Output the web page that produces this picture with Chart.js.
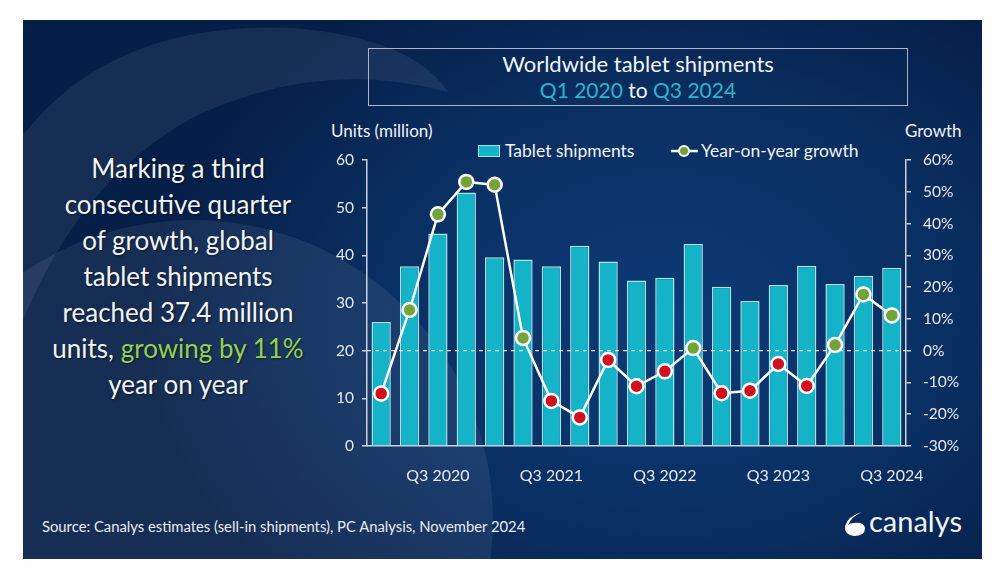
<!DOCTYPE html>
<html>
<head>
<meta charset="utf-8">
<script src="https://cdn.jsdelivr.net/npm/chart.js@4.4.1/dist/chart.umd.min.js"></script>
<style>
  html,body{margin:0;padding:0;background:#fff;width:1004px;height:587px;overflow:hidden;font-family:Lato,"Open Sans",sans-serif;}
  #panel{position:absolute;left:23px;top:20px;width:959px;height:539px;overflow:hidden;
    background: radial-gradient(ellipse 520px 380px at 640px 300px, #0d3b76 0%, #0a2f62 55%, #061f48 100%);}
  #bg{position:absolute;left:0;top:0;}
  #c{position:absolute;left:0;top:0;}
  .t{position:absolute;color:#f2f4f7;white-space:nowrap;}
  #titlebox{position:absolute;left:368px;top:48px;width:540px;height:58px;border:1.5px solid #aab6c6;box-sizing:border-box;}
  .teal{color:#2cb3cb;}
  #lefttext{position:absolute;left:25px;top:150px;width:306px;text-align:center;font-size:26px;line-height:36px;color:#f2f4f7;text-shadow:1px 1px 2px rgba(0,0,0,0.5);}
  .green{color:#94d051;}
</style>
</head>
<body>
<div id="panel">
  <svg id="bg" width="959" height="539">
    <path d="M 0 115 Q 90 0 270 8 Q 390 18 425 72 Q 300 38 175 95 Q 60 155 0 300 Z" fill="rgba(255,255,255,0.07)"/>
    <circle cx="170" cy="500" r="300" fill="rgba(255,255,255,0.07)"/>
  </svg>
</div>
<div id="titlebox"></div>
<div class="t" style="left:368px;width:540px;text-align:center;top:50px;font-size:22px;">Worldwide tablet shipments</div>
<div class="t" style="left:368px;width:540px;text-align:center;top:77px;font-size:21px;"><span class="teal">Q1 2020</span> to <span class="teal">Q3 2024</span></div>
<div class="t" style="left:331px;top:120px;font-size:17px;">Units (million)</div>
<div class="t" style="left:905px;top:120px;font-size:17px;">Growth</div>
<div id="lefttext">Marking a third<br>consecutive quarter<br>of growth, global<br>tablet shipments<br>reached 37.4 million<br>units, <span class="green">growing by 11%</span><br>year on year</div>
<div style="position:absolute;left:478px;top:145px;width:22px;height:12px;background:#14b3c7;border:1px solid #a8e4ec;box-sizing:border-box;"></div>
<div class="t" style="left:505px;top:140px;font-size:17.5px;">Tablet shipments</div>
<svg style="position:absolute;left:668px;top:141px;" width="34" height="20">
  <line x1="3" y1="10" x2="30" y2="10" stroke="#fff" stroke-width="2.5"/>
  <circle cx="16" cy="10" r="5" fill="#76a23a" stroke="#fff" stroke-width="2"/>
</svg>
<div class="t" style="left:701px;top:140px;font-size:17.5px;">Year-on-year growth</div>
<div class="t" style="left:42px;top:517px;font-size:14.8px;color:#e8ecf2;">Source: Canalys estimates (sell-in shipments), PC Analysis, November 2024</div>
<svg style="position:absolute;left:842px;top:510px;" width="26" height="28">
  <path d="M 20 2 Q 6 6 3 16 Q 2 25 12 26 Q 23 26 23 18 Q 22 12 12 13 Q 8 13 6 15 Q 9 7 20 2 Z" fill="#fff"/>
</svg>
<div class="t" style="left:869px;top:503px;font-size:29px;">canalys</div>
<canvas id="c" width="1004" height="587"></canvas>
<script>
const quarters = ["Q1 2020","Q2 2020","Q3 2020","Q4 2020","Q1 2021","Q2 2021","Q3 2021","Q4 2021","Q1 2022","Q2 2022","Q3 2022","Q4 2022","Q1 2023","Q2 2023","Q3 2023","Q4 2023","Q1 2024","Q2 2024","Q3 2024"];
const shipments = [26.0,37.7,44.6,53.2,39.6,39.1,37.7,42.0,38.7,34.7,35.3,42.4,33.4,30.4,33.8,37.8,34.0,35.7,37.4];
const growth = [-13.5,12.8,42.9,53.1,52.2,4.0,-15.8,-21.0,-2.9,-11.2,-6.5,0.8,-13.4,-12.6,-4.2,-11.1,1.8,17.7,11.1];
const unitTicks = [0,10,20,30,40,50,60];
const growthTicks = [-30,-20,-10,0,10,20,30,40,50,60];

const axisColor = '#c9d1dc';
const tickFont = {family:'Lato', size:15.5};

const zeroLine = {
  id:'zeroLine',
  afterDatasetDraw(chart,args){
    if(args.index!==0) return;
    const y = chart.scales.y1.getPixelForValue(0);
    const a = chart.chartArea, ctx = chart.ctx;
    ctx.save();
    ctx.strokeStyle='rgba(255,255,255,0.85)';
    ctx.lineWidth=1.2;
    ctx.setLineDash([4,4]);
    ctx.beginPath();ctx.moveTo(a.left,y);ctx.lineTo(a.right,y);ctx.stroke();
    ctx.restore();
  }
};

new Chart(document.getElementById('c'),{
  data:{
    labels:quarters,
    datasets:[
      {type:'bar',label:'Tablet shipments',data:shipments,yAxisID:'y',order:1,
       backgroundColor:'#14b3c7',borderColor:'#a8e4ec',borderWidth:1.5,borderSkipped:'bottom',
       barPercentage:0.68,categoryPercentage:1},
      {type:'line',label:'Year-on-year growth',data:growth,yAxisID:'y1',order:0,
       borderColor:'#ffffff',borderWidth:2.5,tension:0,
       pointRadius:7,pointHoverRadius:7,pointBorderWidth:2.5,pointBorderColor:'#ffffff',
       pointBackgroundColor:growth.map(v=>v>=0?'#76a23a':'#d0101c')}
    ]
  },
  options:{
    responsive:false,animation:false,devicePixelRatio:1,
    layout:{padding:{left:322,right:38,top:160,bottom:96}},
    plugins:{legend:{display:false},tooltip:{enabled:false}},
    scales:{
      x:{offset:true,
         grid:{display:false},
         border:{display:true,color:axisColor,width:1.5},
         ticks:{autoSkip:false,maxRotation:0,padding:12,color:'#e6eaf0',font:{family:'Lato',size:16},
           callback:function(v,i){return (i%4===2)?quarters[i]:'';}},
         afterFit(s){s.height=45;}},
      y:{position:'left',min:0,max:60,
         afterBuildTicks(s){s.ticks=unitTicks.map(v=>({value:v}));},
         grid:{drawOnChartArea:false,drawTicks:true,tickLength:5,color:axisColor,lineWidth:1.5},
         border:{display:true,color:axisColor,width:1.5},
         ticks:{padding:8,color:'#e6eaf0',font:tickFont},
         afterFit(s){s.width=45;}},
      y1:{position:'right',min:-30,max:60,
         afterBuildTicks(s){s.ticks=growthTicks.map(v=>({value:v}));},
         grid:{drawOnChartArea:false,drawTicks:true,tickLength:5,color:axisColor,lineWidth:1.5},
         border:{display:true,color:axisColor,width:1.5},
         ticks:{padding:12,color:'#e6eaf0',font:tickFont,callback:v=>v+'%'},
         afterFit(s){s.width=60;}}
    }
  },
  plugins:[zeroLine]
});
</script>
</body>
</html>
